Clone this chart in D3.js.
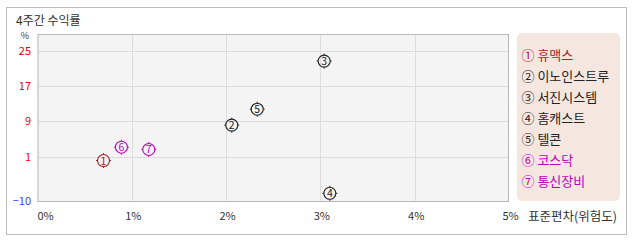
<!DOCTYPE html>
<html>
<head>
<meta charset="utf-8">
<script src="https://cdn.jsdelivr.net/npm/d3@7"></script>
<style>
  body { margin: 0; background: #fff; }
  svg { display: block; font-family: "Noto Sans CJK KR", "DejaVu Sans", sans-serif; }
</style>
</head>
<body>
<div class="chart"></div>
<script>
// data
var names = ["휴맥스", "이노인스트루", "서진시스템", "홈캐스트", "텔콘", "코스닥", "통신장비"];
var marks = ["①", "②", "③", "④", "⑤", "⑥", "⑦"];
var riskPct = [0.70, 2.06, 3.04, 3.10, 2.33, 0.89, 1.18];   // 표준편차 (%)
var returnPct = [0.0, 8.1, 22.6, -8.1, 11.7, 3.1, 2.6];     // 4주간 수익률 (%)
var itemColors = ["#a82020", "#222", "#222", "#222", "#222", "#c000c0", "#c000c0"];
var xTicks = [0, 1, 2, 3, 4, 5];
var yTicks = [25, 17, 9, 1, -10];

var svgWidth = 638, svgHeight = 242;

var svg = d3.select(".chart").append("svg")
  .attr("width", svgWidth)
  .attr("height", svgHeight);

// outer frame
svg.append("rect")
  .attr("x", 6.5).attr("y", 7.5)
  .attr("width", 620).attr("height", 227)
  .attr("fill", "#fff").attr("stroke", "#bcbcbc");

svg.append("text")
  .attr("x", 16).attr("y", 25)
  .attr("font-size", 12).attr("fill", "#333")
  .text("4주간 수익률");

var plot = { left: 37.5, right: 509, top: 34, bottom: 201 };

var x = d3.scaleLinear().domain([0, 5]).range([plot.left, plot.right]);
// the axis is not evenly spaced below 1, so use a piecewise scale
var y = d3.scaleLinear().domain([-10, 1, 25]).range([plot.bottom, 156.5, 50.5]);

svg.append("rect")
  .attr("x", plot.left).attr("y", plot.top)
  .attr("width", plot.right - plot.left).attr("height", plot.bottom - plot.top)
  .attr("fill", "#f4f4f4");

var grid = svg.append("g").attr("stroke", "#dcdcdc").attr("stroke-width", 1);
grid.selectAll(".vx")
  .data(xTicks.slice(1, -1))
  .enter().append("line")
  .attr("x1", function(d) { return Math.round(x(d)) + 0.5; })
  .attr("x2", function(d) { return Math.round(x(d)) + 0.5; })
  .attr("y1", plot.top).attr("y2", plot.bottom);
grid.selectAll(".hy")
  .data(yTicks.slice(0, -1))
  .enter().append("line")
  .attr("y1", function(d) { return Math.round(y(d)) + 0.5; })
  .attr("y2", function(d) { return Math.round(y(d)) + 0.5; })
  .attr("x1", plot.left).attr("x2", plot.right);

svg.append("rect")
  .attr("x", plot.left + 0.5).attr("y", plot.top + 0.5)
  .attr("width", plot.right - plot.left - 1).attr("height", plot.bottom - plot.top)
  .attr("fill", "none").attr("stroke", "#b8b8b8");

// y axis labels
svg.append("text")
  .attr("x", 25).attr("y", 38.5)
  .attr("font-size", 9).attr("text-anchor", "middle").attr("fill", "#333")
  .text("%");
svg.selectAll(".ylab")
  .data(yTicks)
  .enter().append("text")
  .attr("x", 31)
  .attr("y", function(d) { return y(d) + 4; })
  .attr("text-anchor", "end")
  .attr("font-size", 11)
  .attr("fill", function(d) { return d < 0 ? "#4040ff" : "#f00000"; })
  .text(function(d) { return d < 0 ? "\u221210" : d; });

// x axis labels
svg.selectAll(".xlab")
  .data(xTicks)
  .enter().append("text")
  .attr("x", function(d) { return d === 0 ? x(d) : x(d) + 1.5; })
  .attr("y", 220)
  .attr("text-anchor", function(d) { return d === 0 ? "start" : "middle"; })
  .attr("font-size", 11)
  .attr("fill", "#333")
  .text(function(d) { return d + "%"; });

svg.append("text")
  .attr("x", 528).attr("y", 221)
  .attr("font-size", 12.5).attr("fill", "#333")
  .text("표준편차(위험도)");

// points
var pts = svg.append("g").selectAll("g")
  .data(names)
  .enter().append("g")
  .attr("transform", function(d, i) {
    return "translate(" + x(riskPct[i]) + "," + y(returnPct[i]) + ")";
  });
pts.append("circle")
  .attr("r", 6)
  .attr("fill", "none")
  .attr("stroke", function(d, i) { return itemColors[i]; })
  .attr("stroke-width", 1.1);
pts.each(function(d, i) {
  var g = d3.select(this);
  [[0, -6, 0, -7.5], [0, 6, 0, 7.5], [-6, 0, -7.5, 0], [6, 0, 7.5, 0]].forEach(function(t) {
    g.append("line")
      .attr("x1", t[0]).attr("y1", t[1]).attr("x2", t[2]).attr("y2", t[3])
      .attr("stroke", itemColors[i]).attr("stroke-width", 1);
  });
});
pts.append("text")
  .attr("y", 4)
  .attr("text-anchor", "middle")
  .attr("font-size", 10.5)
  .attr("fill", function(d, i) { return itemColors[i]; })
  .text(function(d, i) { return i + 1; });

// legend
svg.append("rect")
  .attr("x", 517).attr("y", 33)
  .attr("width", 103).attr("height", 168)
  .attr("rx", 5)
  .attr("fill", "#f5e7df");

svg.selectAll(".leg")
  .data(names)
  .enter().append("text")
  .attr("x", 521.5)
  .attr("y", function(d, i) { return 60 + i * 21; })
  .attr("font-size", 13)
  .attr("fill", function(d, i) { return itemColors[i]; })
  .text(function(d, i) { return marks[i] + " " + d; });
</script>
</body>
</html>
